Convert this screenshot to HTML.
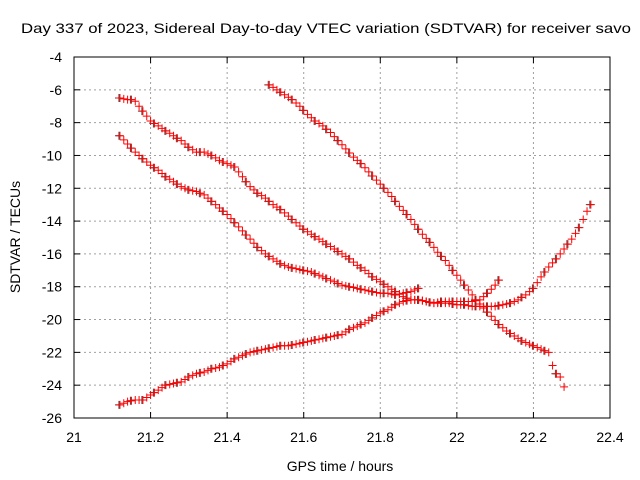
<!DOCTYPE html>
<html><head><meta charset="utf-8"><style>
body{margin:0;background:#fff}
svg{display:block;font-family:"Liberation Sans",sans-serif}
</style></head><body>
<svg id="chart" width="640" height="480">
<rect width="640" height="480" fill="#fff"/>
<text x="326" y="33" text-anchor="middle" font-size="14" textLength="610" lengthAdjust="spacingAndGlyphs">Day 337 of 2023, Sidereal Day-to-day VTEC variation (SDTVAR) for receiver savo</text>
<g id="grid"></g>
<g id="ticks"></g>
<g id="marks"></g>
<rect x="74" y="57" width="536" height="361" fill="none" stroke="#000" stroke-width="1"/>
<text x="340" y="471" text-anchor="middle" font-size="14">GPS time / hours</text>
<text x="20" y="237" text-anchor="middle" font-size="14" transform="rotate(-90 20 237)">SDTVAR / TECUs</text>
</svg>
<script>
const xTicks=[21,21.2,21.4,21.6,21.8,22,22.2,22.4];
const xTickLabels=["21","21.2","21.4","21.6","21.8","22","22.2","22.4"];
const yTicks=[-4,-6,-8,-10,-12,-14,-16,-18,-20,-22,-24,-26];
const yTickLabels=["-4","-6","-8","-10","-12","-14","-16","-18","-20","-22","-24","-26"];
const trackAx=[21.12,21.13,21.14,21.15,21.16,21.17,21.18,21.19,21.20,21.21,21.22,21.23,21.24,21.25,21.26,21.27,21.28,21.29,21.30,21.31,21.32,21.33,21.34,21.35,21.36,21.37,21.38,21.39,21.40,21.41,21.42,21.43,21.44,21.45,21.46,21.47,21.48,21.49,21.50,21.51,21.52,21.53,21.54,21.55,21.56,21.57,21.58,21.59,21.60,21.61,21.62,21.63,21.64,21.65,21.66,21.67,21.68,21.69,21.70,21.71,21.72,21.73,21.74,21.75,21.76,21.77,21.78,21.79,21.80,21.81,21.82,21.83,21.84,21.85,21.86,21.87,21.88,21.89,21.90,21.91,21.92,21.93,21.94,21.95,21.96,21.97,21.98,21.99,22.00,22.01,22.02,22.03,22.04,22.05,22.06,22.07,22.08,22.09,22.10,22.11];
const trackAy=[-6.5,-6.55,-6.6,-6.6,-6.7,-7.0,-7.3,-7.6,-7.9,-8.05,-8.2,-8.35,-8.5,-8.65,-8.8,-8.95,-9.1,-9.3,-9.5,-9.65,-9.8,-9.8,-9.8,-9.9,-10.0,-10.15,-10.3,-10.4,-10.5,-10.6,-10.7,-11.0,-11.3,-11.6,-11.9,-12.1,-12.3,-12.45,-12.6,-12.8,-13.0,-13.15,-13.3,-13.5,-13.7,-13.9,-14.1,-14.3,-14.5,-14.65,-14.8,-14.95,-15.1,-15.25,-15.4,-15.55,-15.7,-15.85,-16.0,-16.15,-16.3,-16.5,-16.7,-16.85,-17.0,-17.2,-17.4,-17.55,-17.7,-17.85,-18.0,-18.15,-18.3,-18.45,-18.6,-18.7,-18.8,-18.8,-18.8,-18.85,-18.9,-18.95,-19.0,-18.95,-18.9,-18.9,-18.9,-18.9,-18.9,-18.9,-18.9,-18.9,-18.9,-18.85,-18.8,-18.6,-18.4,-18.15,-17.9,-17.6];
const trackBx=[21.12,21.13,21.14,21.15,21.16,21.17,21.18,21.19,21.20,21.21,21.22,21.23,21.24,21.25,21.26,21.27,21.28,21.29,21.30,21.31,21.32,21.33,21.34,21.35,21.36,21.37,21.38,21.39,21.40,21.41,21.42,21.43,21.44,21.45,21.46,21.47,21.48,21.49,21.50,21.51,21.52,21.53,21.54,21.55,21.56,21.57,21.58,21.59,21.60,21.61,21.62,21.63,21.64,21.65,21.66,21.67,21.68,21.69,21.70,21.71,21.72,21.73,21.74,21.75,21.76,21.77,21.78,21.79,21.80,21.81,21.82,21.83,21.84,21.85,21.86,21.87,21.88,21.89,21.90];
const trackBy=[-8.8,-9.05,-9.3,-9.55,-9.8,-10.0,-10.2,-10.4,-10.6,-10.75,-10.9,-11.1,-11.3,-11.45,-11.6,-11.75,-11.9,-12.0,-12.1,-12.15,-12.2,-12.3,-12.4,-12.6,-12.8,-13.0,-13.2,-13.4,-13.6,-13.85,-14.1,-14.35,-14.6,-14.85,-15.1,-15.35,-15.6,-15.8,-16.0,-16.15,-16.3,-16.45,-16.6,-16.7,-16.8,-16.85,-16.9,-16.95,-17.0,-17.05,-17.1,-17.2,-17.3,-17.4,-17.5,-17.6,-17.7,-17.8,-17.9,-17.95,-18.0,-18.05,-18.1,-18.15,-18.2,-18.25,-18.3,-18.35,-18.4,-18.4,-18.4,-18.45,-18.5,-18.45,-18.4,-18.35,-18.3,-18.2,-18.1];
const trackCx=[21.51,21.52,21.53,21.54,21.55,21.56,21.57,21.58,21.59,21.60,21.61,21.62,21.63,21.64,21.65,21.66,21.67,21.68,21.69,21.70,21.71,21.72,21.73,21.74,21.75,21.76,21.77,21.78,21.79,21.80,21.81,21.82,21.83,21.84,21.85,21.86,21.87,21.88,21.89,21.90,21.91,21.92,21.93,21.94,21.95,21.96,21.97,21.98,21.99,22.00,22.01,22.02,22.03,22.04,22.05,22.06,22.07,22.08,22.09,22.10,22.11,22.12,22.13,22.14,22.15,22.16,22.17,22.18,22.19,22.20,22.21,22.22,22.23,22.24,22.25,22.26,22.27,22.28];
const trackCy=[-5.7,-5.85,-6.0,-6.15,-6.3,-6.45,-6.6,-6.8,-7.0,-7.25,-7.5,-7.7,-7.9,-8.05,-8.2,-8.4,-8.6,-8.85,-9.1,-9.35,-9.6,-9.85,-10.1,-10.3,-10.5,-10.75,-11.0,-11.25,-11.5,-11.75,-12.0,-12.25,-12.5,-12.8,-13.1,-13.35,-13.6,-13.9,-14.2,-14.5,-14.8,-15.05,-15.3,-15.6,-15.9,-16.15,-16.4,-16.7,-17.0,-17.3,-17.6,-17.9,-18.2,-18.5,-18.8,-19.05,-19.3,-19.55,-19.8,-20.05,-20.3,-20.5,-20.7,-20.85,-21.0,-21.15,-21.3,-21.4,-21.5,-21.6,-21.7,-21.8,-21.9,-22.0,-22.8,-23.3,-23.5,-24.1];
const trackDx=[21.12,21.13,21.14,21.15,21.16,21.17,21.18,21.19,21.20,21.21,21.22,21.23,21.24,21.25,21.26,21.27,21.28,21.29,21.30,21.31,21.32,21.33,21.34,21.35,21.36,21.37,21.38,21.39,21.40,21.41,21.42,21.43,21.44,21.45,21.46,21.47,21.48,21.49,21.50,21.51,21.52,21.53,21.54,21.55,21.56,21.57,21.58,21.59,21.60,21.61,21.62,21.63,21.64,21.65,21.66,21.67,21.68,21.69,21.70,21.71,21.72,21.73,21.74,21.75,21.76,21.77,21.78,21.79,21.80,21.81,21.82,21.83,21.84,21.85,21.86,21.87,21.88,21.89,21.90,21.91,21.92,21.93,21.94,21.95,21.96,21.97,21.98,21.99,22.00,22.01,22.02,22.03,22.04,22.05,22.06,22.07,22.08,22.09,22.10,22.11,22.12,22.13,22.14,22.15,22.16,22.17,22.18,22.19,22.20,22.21,22.22,22.23,22.24,22.25,22.26,22.27,22.28,22.29,22.30,22.31,22.32,22.33,22.34,22.35];
const trackDy=[-25.2,-25.1,-25.0,-24.95,-24.9,-24.9,-24.9,-24.75,-24.6,-24.45,-24.3,-24.15,-24.0,-23.95,-23.9,-23.85,-23.8,-23.65,-23.5,-23.4,-23.3,-23.25,-23.2,-23.1,-23.0,-22.95,-22.9,-22.8,-22.7,-22.55,-22.4,-22.3,-22.2,-22.1,-22.0,-21.95,-21.9,-21.85,-21.8,-21.75,-21.7,-21.65,-21.6,-21.6,-21.6,-21.55,-21.5,-21.45,-21.4,-21.35,-21.3,-21.25,-21.2,-21.15,-21.1,-21.05,-21.0,-20.95,-20.9,-20.75,-20.6,-20.5,-20.4,-20.3,-20.2,-20.05,-19.9,-19.75,-19.6,-19.5,-19.4,-19.25,-19.1,-19.0,-18.9,-18.85,-18.8,-18.8,-18.8,-18.85,-18.9,-18.95,-19.0,-19.0,-19.0,-19.0,-19.0,-19.05,-19.1,-19.1,-19.1,-19.15,-19.2,-19.2,-19.2,-19.2,-19.2,-19.2,-19.2,-19.15,-19.1,-19.05,-19.0,-18.9,-18.8,-18.65,-18.5,-18.3,-18.1,-17.75,-17.4,-17.1,-16.8,-16.55,-16.3,-16.0,-15.7,-15.4,-15.1,-14.75,-14.4,-13.9,-13.4,-13.0];

const NS="http://www.w3.org/2000/svg";
const L=74,R=610,T=57,B=418;
function sx(v){return L+(v-21)/(22.4-21)*(R-L);}
function sy(v){return T+(-4-v)/(22)*(B-T);}
function mk(tag,attrs,parent){const e=document.createElementNS(NS,tag);for(const k in attrs)e.setAttribute(k,attrs[k]);parent.appendChild(e);return e;}
const grid=document.getElementById('grid'),ticks=document.getElementById('ticks'),marks=document.getElementById('marks');
xTicks.forEach((v,i)=>{const x=sx(v);
 if(i>0&&i<xTicks.length-1){const g=mk('line',{x1:x,x2:x,y1:T,y2:B,stroke:'#a0a0a0','stroke-dasharray':'2,3'},grid);
 
 }
 mk('line',{x1:x,x2:x,y1:B,y2:B-6,stroke:'#000'},ticks);mk('line',{x1:x,x2:x,y1:T,y2:T+6,stroke:'#000'},ticks);
 const t=mk('text',{x:x,y:B+24,'text-anchor':'middle','font-size':14},ticks);t.textContent=xTickLabels[i];
 
 });
yTicks.forEach((v,i)=>{const y=sy(v);
 if(i>0&&i<yTicks.length-1){const g=mk('line',{x1:L,x2:R,y1:y,y2:y,stroke:'#a0a0a0','stroke-dasharray':'2,3'},grid);
 
 }
 mk('line',{x1:L,x2:L+6,y1:y,y2:y,stroke:'#000'},ticks);mk('line',{x1:R,x2:R-6,y1:y,y2:y,stroke:'#000'},ticks);
 const t=mk('text',{x:L-12,y:y+5,'text-anchor':'end','font-size':14},ticks);t.textContent=yTickLabels[i];
 
 });
function plus(x,y,col,name){const p=mk('path',{d:`M${x-4},${y}h8M${x},${y-4}v8`,stroke:col,'stroke-width':1,fill:'none'},marks);
 
 }
const tracks=[[trackAx,trackAy,'track-a'],[trackBx,trackBy,'track-b'],[trackCx,trackCy,'track-c'],[trackDx,trackDy,'track-d']];
tracks.forEach(([xs,ys,n])=>{
 xs.forEach((v,i)=>{if(i%3===0)plus(sx(v)-1,sy(ys[i]),'#444',n+'-black-point');});
});
tracks.forEach(([xs,ys,n])=>{
 xs.forEach((v,i)=>plus(sx(v),sy(ys[i]),'#f00',n+'-point'));
});
</script>
</body></html>
